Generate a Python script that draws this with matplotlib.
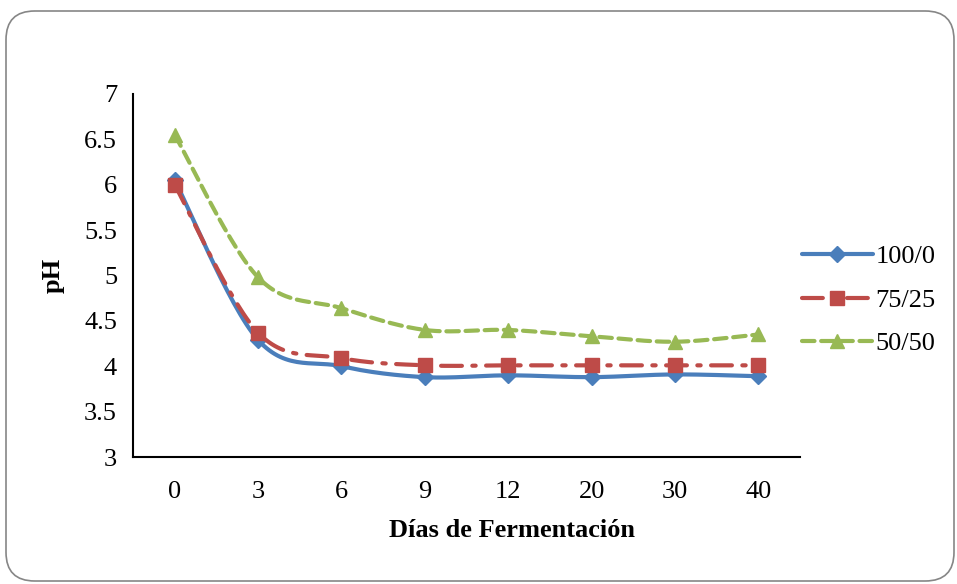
import numpy as np
import matplotlib
matplotlib.use("Agg")
import matplotlib.pyplot as plt
from matplotlib.patches import FancyBboxPatch

categories = ["0", "3", "6", "9", "12", "20", "30", "40"]
s100_0 = [6.05, 4.29, 4.00, 3.88, 3.90, 3.88, 3.91, 3.89]
s75_25 = [6.00, 4.37, 4.09, 4.01, 4.01, 4.01, 4.01, 4.01]
s50_50 = [6.55, 4.98, 4.64, 4.40, 4.40, 4.33, 4.27, 4.35]
labels = ["100/0", "75/25", "50/50"]

plt.rcParams['font.family'] = ['Liberation Serif', 'DejaVu Serif']

def smooth(x, y, n=30, t=0.5):
    x = np.asarray(x, float); y = np.asarray(y, float)
    xs, ys = [], []
    N = len(x)
    for i in range(N - 1):
        p0 = (x[max(i-1, 0)], y[max(i-1, 0)])
        p1 = (x[i], y[i]); p2 = (x[i+1], y[i+1])
        p3 = (x[min(i+2, N-1)], y[min(i+2, N-1)])
        c1 = (p1[0] + (p2[0]-p0[0])*t/3, p1[1] + (p2[1]-p0[1])*t/3)
        c2 = (p2[0] - (p3[0]-p1[0])*t/3, p2[1] - (p3[1]-p1[1])*t/3)
        u = np.linspace(0, 1, n, endpoint=(i == N-2))
        bx = (1-u)**3*p1[0] + 3*(1-u)**2*u*c1[0] + 3*(1-u)*u**2*c2[0] + u**3*p2[0]
        by = (1-u)**3*p1[1] + 3*(1-u)**2*u*c1[1] + 3*(1-u)*u**2*c2[1] + u**3*p2[1]
        xs.append(bx); ys.append(by)
    return np.concatenate(xs), np.concatenate(ys)

fig = plt.figure(figsize=(9.57, 5.84), dpi=100)
border = FancyBboxPatch((6/957, 3/584), 948/957, 570/584,
                        boxstyle="round,pad=0,rounding_size=0.03",
                        transform=fig.transFigure, fill=False,
                        edgecolor="#868686", linewidth=1.2, mutation_aspect=957/584)
fig.patches.append(border)

ax = fig.add_axes([133/957, 1-457/584, (800-133)/957, (457-94)/584])
x = np.arange(len(categories))

styles = [
    dict(color="#4A7EBB", marker="D", ls="-", ms=8),
    dict(color="#BE4B48", marker="s", ls=(0, (5, 2.5, 0.8, 2.5)), ms=10),
    dict(color="#98B954", marker="^", ls=(0, (3, 1.6)), ms=10),
]
handles = []
for data, st, lab in zip([s100_0, s75_25, s50_50], styles, labels):
    sx, sy = smooth(x, data)
    ax.plot(sx, sy, color=st["color"], ls=st["ls"], lw=3, solid_capstyle="round",
            dash_capstyle="round")
    ax.plot(x, data, color=st["color"], marker=st["marker"], ms=st["ms"], ls="none")
    h, = ax.plot([], [], color=st["color"], ls=st["ls"], lw=3, marker=st["marker"],
                 ms=st["ms"], dash_capstyle="round", solid_capstyle="round")
    handles.append(h)

ax.set_xlim(-0.5, len(categories) - 0.5)
ax.set_ylim(3, 7)
ax.set_yticks(np.arange(3, 7.01, 0.5))
ax.set_yticklabels(["3", "3.5", "4", "4.5", "5", "5.5", "6", "6.5", "7"])
ax.set_xticks(x)
ax.set_xticklabels(categories)
ax.tick_params(axis="both", length=0, labelsize=19)
ax.tick_params(axis="x", pad=17)
ax.tick_params(axis="y", pad=11.5)
for s in ["top", "right"]:
    ax.spines[s].set_visible(False)
for s in ["left", "bottom"]:
    ax.spines[s].set_linewidth(1.5)
ax.set_xlabel("Días de Fermentación", fontsize=19, fontweight="bold", labelpad=12)
ax.xaxis.set_label_coords((512-133)/667, -0.17)
ax.set_ylabel("pH", fontsize=19, fontweight="bold", labelpad=14)

fig.legend(handles, labels, loc="center left", bbox_to_anchor=(778/957, 1-300/584),
           frameon=False, fontsize=19, handlelength=2.7, labelspacing=0.75,
           handletextpad=0.1)

fig.savefig("out.png", dpi=100)
